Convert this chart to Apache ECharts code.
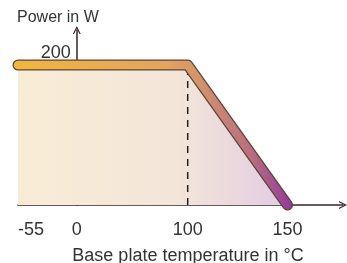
<!DOCTYPE html>
<html>
<head>
<meta charset="utf-8">
<script src="https://cdn.jsdelivr.net/npm/echarts@6/dist/echarts.min.js"></script>
<style>
  html, body { margin: 0; padding: 0; background: #fff; }
  #box01 { width: 347px; height: 263px; }
</style>
</head>
<body>
<div id="box01"></div>
<script>
// tick labels of the temperature axis
var tempTicks = [-55, 0, 100, 150];
var tickLabels = ['-55', '0', '100', '150'];
// the reference axis is schematic (not linear): where each tick sits on it
var scaleStops = [-53, 0, 100, 190];

// derating curve
var derateTemp = [-55, 100, 150];
var deratePower = [200, 200, 0];
var kneeTemp = 100;
var powerTicks = [200];

// temperature -> position on the schematic axis (piecewise linear)
function warp(t) {
    var i = 0;
    while (i < tempTicks.length - 2 && t > tempTicks[i + 1]) i++;
    var t0 = tempTicks[i], t1 = tempTicks[i + 1];
    var s0 = scaleStops[i], s1 = scaleStops[i + 1];
    return s0 + (t - t0) * (s1 - s0) / (t1 - t0);
}

var curve = derateTemp.map(function (t, i) { return [warp(t), deratePower[i]]; });
var knee = [[warp(kneeTemp), 0], [warp(kneeTemp), deratePower[0]]];
var tickPos = tempTicks.map(warp);

var xMin = -53, xMax = 240;
var gridLeft = 18, gridRight = 4;
// put the power axis at 0 °C
var yOffset = -(warp(0) - xMin) * (347 - gridLeft - gridRight) / (xMax - xMin);

var arrow = 'path://M0,10 L5,0 L10,10 L8.4,10 L5,3.2 L1.6,10 Z';
var font = 'Liberation Sans';

var myChart = echarts.init(document.getElementById('box01'));
var option = {
    animation: false,
    title: {
        text: 'Power in W',
        left: 12,
        top: 5,
        textStyle: { fontFamily: font, fontSize: 16, fontWeight: 'normal', color: '#333' }
    },
    grid: { left: gridLeft, right: gridRight, top: 30, bottom: 58, outerBoundsMode: 'none', containLabel: false },
    xAxis: {
        type: 'value',
        min: xMin,
        max: xMax,
        name: 'Base plate temperature in °C',
        nameLocation: 'middle',
        nameGap: 42,
        nameTextStyle: { fontFamily: font, fontSize: 18, color: '#333', padding: [0, 0, 0, 15] },
        axisLine: {
            onZero: true,
            symbol: ['none', arrow],
            symbolSize: [8, 8],
            lineStyle: { color: '#3a2228', width: 1.5 }
        },
        axisTick: {
            show: true,
            inside: true,
            length: 7,
            customValues: [warp(kneeTemp)],
            lineStyle: { color: '#3a2228', width: 1.5 }
        },
        axisLabel: {
            customValues: tickPos,
            alignMinLabel: 'left',
            margin: 16,
            fontFamily: font,
            fontSize: 18,
            color: '#333',
            formatter: function (v) {
                for (var i = 0; i < tickPos.length; i++) {
                    if (Math.abs(tickPos[i] - v) < 0.5) return tickLabels[i];
                }
                return '';
            }
        },
        splitLine: { show: false }
    },
    yAxis: {
        type: 'value',
        min: 0,
        max: 250,
        offset: yOffset,
        axisLine: {
            show: true,
            onZero: false,
            symbol: ['none', arrow],
            symbolSize: [8, 8],
            lineStyle: { color: '#3a2228', width: 1.5 }
        },
        axisTick: { show: false },
        axisLabel: {
            customValues: powerTicks,
            verticalAlign: 'bottom',
            padding: [0, 0, 3, 0],
            margin: 6,
            fontFamily: font,
            fontSize: 18,
            color: '#333'
        },
        splitLine: { show: false }
    },
    series: [
        {
            type: 'line',
            data: curve,
            symbol: 'none',
            clip: false,
            lineStyle: { width: 0 },
            areaStyle: {
                opacity: 1,
                color: new echarts.graphic.LinearGradient(0, 0, 1, 0, [
                    { offset: 0, color: '#f9ecd6' },
                    { offset: 0.6, color: '#f3e5d9' },
                    { offset: 1, color: '#e2cbe3' }
                ])
            },
            z: 1
        },
        {
            type: 'line',
            data: knee,
            symbol: 'none',
            clip: false,
            lineStyle: { color: '#222', width: 1.5, type: [7, 6] },
            z: 2
        },
        {
            type: 'line',
            data: curve,
            symbol: 'none',
            clip: false,
            lineStyle: { color: '#5e4436', width: 11, cap: 'round', join: 'round' },
            z: 3
        },
        {
            type: 'line',
            data: curve,
            symbol: 'none',
            clip: false,
            lineStyle: {
                width: 8.5,
                cap: 'round',
                join: 'round',
                color: new echarts.graphic.LinearGradient(0, 0, 1, 0, [
                    { offset: 0, color: '#f1b63e' },
                    { offset: 0.55, color: '#e3a45e' },
                    { offset: 0.66, color: '#d4946c' },
                    { offset: 0.85, color: '#b86f80' },
                    { offset: 1, color: '#943a9e' }
                ])
            },
            z: 4
        }
    ]
};
myChart.setOption(option);
</script>
</body>
</html>
